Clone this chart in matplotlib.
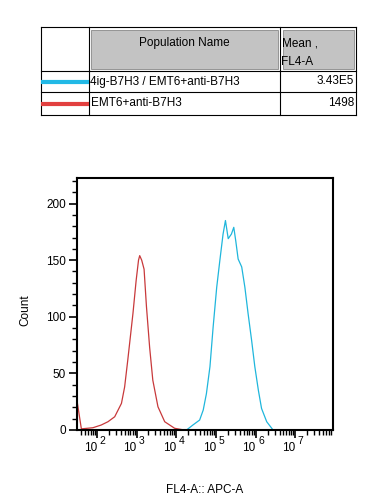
import numpy as np
import matplotlib.pyplot as plt
from matplotlib.ticker import FixedLocator, MultipleLocator, NullFormatter
from matplotlib.transforms import offset_copy

plt.rcParams['font.family'] = ['Liberation Sans', 'DejaVu Sans']

# legend table
pop_names = ['4ig-B7H3 / EMT6+anti-B7H3', 'EMT6+anti-B7H3']
pop_means = ['3.43E5', '1498']
pop_colors = ['#22b9e6', '#e2403f']

# x decades with labels
decades = [2, 3, 4, 5, 6, 7]

# red histogram (EMT6+anti-B7H3), log10 of FL4-A vs count
red_log = [1.50, 1.61, 1.90, 2.11, 2.28, 2.45, 2.62, 2.70, 2.78, 2.91, 2.99, 3.05,
           3.08, 3.13, 3.19, 3.25, 3.33, 3.41, 3.54, 3.71, 3.96, 4.20, 5.0, 6.0, 7.95]
red_cnt = [26, 1, 2, 4.4, 7.3, 11.7, 23.5, 38, 62, 103, 132, 150,
           154, 150, 142, 109, 73, 44, 20.5, 7.3, 1.5, 0, 0, 0, 0]

# cyan histogram (4ig-B7H3 / EMT6+anti-B7H3)
cyan_log = [1.50, 3.0, 4.26, 4.42, 4.59, 4.68, 4.76, 4.85, 4.93, 5.02, 5.10, 5.18,
            5.24, 5.31, 5.39, 5.45, 5.50, 5.56, 5.65, 5.73, 5.81, 5.90, 5.98,
            6.07, 6.15, 6.28, 6.44, 7.0, 7.95]
cyan_cnt = [0, 0, 0, 4.4, 8.8, 17.6, 32, 56, 91, 126, 150, 173,
            185, 169, 173, 179, 167, 151, 144, 126, 103, 79, 56,
            35, 19, 7.3, 0, 0, 0]

fig = plt.figure(figsize=(3.72, 5.04), dpi=100)

# ---- table drawn in pixel coordinates ----
tab = fig.add_axes([0, 0, 1, 1])
tab.set_xlim(0, 372)
tab.set_ylim(504, 0)
tab.axis('off')

xl, xc1, xc2, xr = 40.5, 88.5, 280, 356
yt, yh, yr1, yr2 = 27, 71, 92, 115
k = dict(color='black', lw=0.8)
for y in [yt, yh, yr1, yr2]:
    tab.plot([xl, xr], [y, y], **k)
for x in [xl, xc1, xc2, xr]:
    tab.plot([x, x], [yt, yr2], **k)
# grey header cells
tab.add_patch(plt.Rectangle((xc1 + 2.5, yt + 2.5), xc2 - xc1 - 5, yh - yt - 5,
                            facecolor='#c3c3c3', edgecolor='#888888', lw=0.6))
tab.add_patch(plt.Rectangle((xc2 + 2.5, yt + 2.5), xr - xc2 - 5, yh - yt - 5,
                            facecolor='#c3c3c3', edgecolor='#888888', lw=0.6))
fs = 8.5
tab.text((xc1 + xc2) / 2, 43, 'Population Name', ha='center', va='center', fontsize=fs)
tab.text(xc2 + 1.5, 43, 'Mean ,', ha='left', va='center', fontsize=fs)
tab.text(xc2 + 1.5, 62, 'FL4-A', ha='left', va='center', fontsize=fs)
row_y = [81.5, 103.5]
for name, mean, col, y in zip(pop_names, pop_means, pop_colors, row_y):
    tab.plot([xl, xc1], [y, y], color=col, lw=3, solid_capstyle='butt')
    tab.text(xc1 + 2, y, name, ha='left', va='center', fontsize=fs)
    tab.text(xr - 2, y, mean, ha='right', va='center', fontsize=fs)

# ---- histogram ----
ax = fig.add_axes([77 / 372, 74 / 504, 256 / 372, 252.5 / 504])
ax.plot(10 ** np.array(red_log), red_cnt, color='#c8393b', lw=0.9)
ax.plot(10 ** np.array(cyan_log), cyan_cnt, color='#1fb6dc', lw=0.9)
ax.set_xscale('log')
ax.set_xlim(10 ** 1.5, 10 ** 7.95)
ax.set_ylim(0, 223)

ax.xaxis.set_major_locator(FixedLocator([10.0 ** e for e in decades]))
ax.xaxis.set_major_formatter(NullFormatter())
minors = [m * 10 ** e for e in range(1, 8) for m in range(2, 10)]
ax.xaxis.set_minor_locator(FixedLocator(minors))
ax.xaxis.set_minor_formatter(NullFormatter())
ax.yaxis.set_major_locator(MultipleLocator(50))
ax.yaxis.set_minor_locator(MultipleLocator(10))

ax.tick_params(which='major', direction='out', length=6, width=1.2, labelsize=fs, pad=2)
ax.tick_params(which='minor', direction='out', length=3.5, width=1.0)
for s in ax.spines.values():
    s.set_linewidth(1.5)

# decade labels: "10" left of tick, exponent raised to the right
tr = ax.get_xaxis_transform()
tr_base = offset_copy(tr, fig=fig, x=0, y=-21, units='dots')
tr_exp = offset_copy(tr, fig=fig, x=2.5, y=-14, units='dots')
for e in decades:
    ax.text(10.0 ** e, 0, '10', transform=tr_base, ha='right', va='baseline', fontsize=fs)
    ax.text(10.0 ** e, 0, str(e), transform=tr_exp, ha='left', va='baseline', fontsize=7.5)

fig.text(25 / 372, 1 - 310 / 504, 'Count', rotation=90, ha='center', va='center', fontsize=fs)
fig.text(205 / 372, 1 - 490 / 504, 'FL4-A:: APC-A', ha='center', va='center', fontsize=fs)

fig.savefig('out.png', dpi=100)
